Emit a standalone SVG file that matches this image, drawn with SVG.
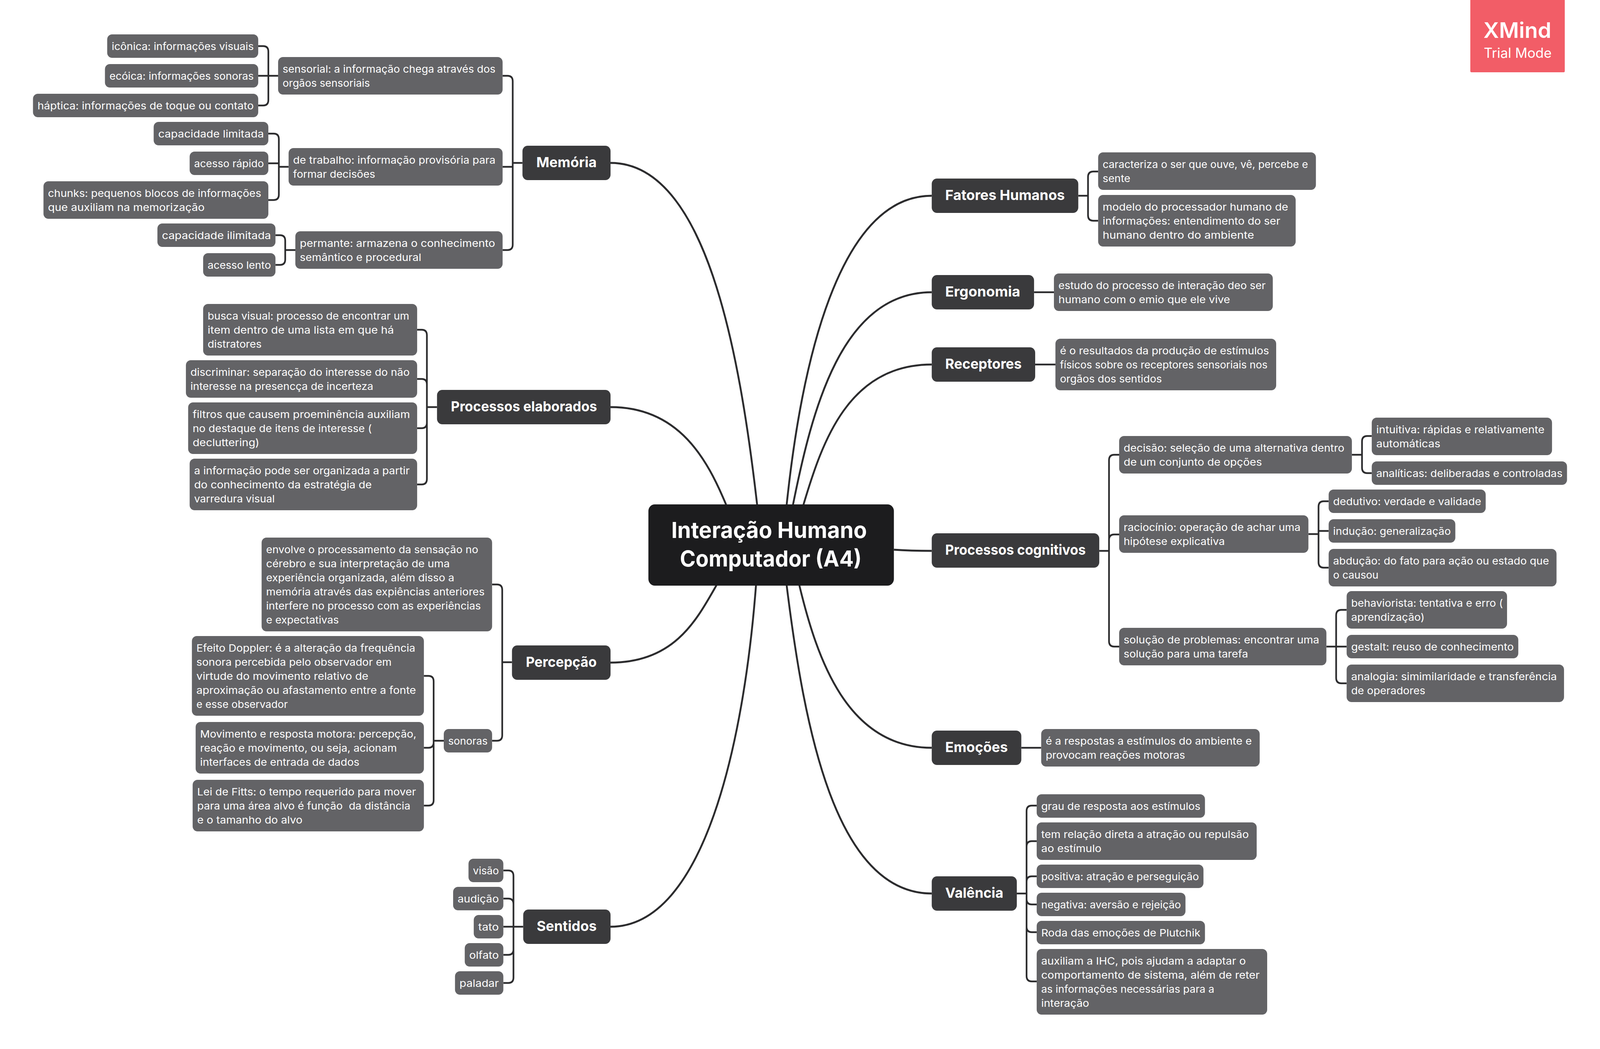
<svg xmlns="http://www.w3.org/2000/svg" width="4269" height="2685" viewBox="0 0 4269 2685" preserveAspectRatio="none">
<style>
svg{width:100vw;height:100vh}
text{font-family:Inter,"Open Sans","Liberation Sans",sans-serif;fill:#fff}
.l{fill:#636366}.b{fill:#3a3a3c}.r{fill:#1c1c1e}
.t{font-size:26px}
.bt{font-size:36px;font-weight:700}
.rt{font-size:57px;font-weight:700}
.c{fill:none;stroke:#2c2c2e;stroke-width:5}
.e{fill:none;stroke:#2c2c2e;stroke-width:4.5}
</style>
<rect width="4269" height="2685" fill="#fff"/>
<g id="connectors">
<path class="c" d="M1629 417C1883 417 1973 898 2020 1291L2030 1380"/>
<path class="c" d="M1629 1042C1814 1042 1888 1179 1937 1291L1960 1340"/>
<path class="c" d="M1629 1696C1799 1696 1858 1588 1911 1499L1940 1450"/>
<path class="c" d="M1629 2372C1879 2372 1985 1899 2017 1499L2021 1450"/>
<path class="c" d="M2486 501C2236 501 2138 936 2099 1291L2090 1370"/>
<path class="c" d="M2486 748C2246 748 2167 1047 2116 1291L2100 1370"/>
<path class="c" d="M2486 933C2264 933 2194 1130 2144 1291L2120 1370"/>
<path class="c" d="M2385 1407Q2430 1410 2486 1410"/>
<path class="c" d="M2486 1914C2260 1914 2180 1686 2133 1499L2120 1450"/>
<path class="c" d="M2486 2287C2226 2287 2145 1854 2099 1499L2093 1450"/>
<path class="e" d="M1394 417H1368V208Q1368 194 1354 194H1341M1368 417V427H1341M1368 417V626Q1368 640 1354 640H1341"/>
<path class="e" d="M742 194H716V132Q716 118 702 118H689M716 194H689M716 194V256Q716 270 702 270H689"/>
<path class="e" d="M770 427H744V356Q744 342 730 342H716M744 427V418H716M744 427V498Q744 512 730 512H716"/>
<path class="e" d="M788 640H761V616Q761 602 747 602H735M761 640V664Q761 678 747 678H735"/>
<path class="e" d="M1166 1042H1139V858Q1139 844 1125 844H1113M1139 1042V984Q1139 970 1125 970H1113M1139 1042V1082Q1139 1096 1125 1096H1113M1139 1042V1226Q1139 1240 1125 1240H1113"/>
<path class="e" d="M1366 1695H1340V1510Q1340 1496 1326 1496H1313M1340 1695V1882Q1340 1896 1326 1896H1313"/>
<path class="e" d="M1184 1896H1157V1744Q1157 1730 1143 1730H1131M1157 1896V1900Q1157 1914 1143 1914H1131M1157 1896V2048Q1157 2062 1143 2062H1131"/>
<path class="e" d="M1396 2372H1370V2242Q1370 2228 1356 2228H1343M1370 2372V2314Q1370 2300 1356 2300H1343M1370 2372H1343M1370 2372V2430Q1370 2444 1356 2444H1343M1370 2372V2502Q1370 2516 1356 2516H1343"/>
<path class="e" d="M2877 501H2903V453Q2903 439 2917 439H2930M2903 501V551Q2903 565 2917 565H2930"/>
<path class="e" d="M2759 748H2812M2762 933H2816M2725 1914H2778"/>
<path class="e" d="M2933 1410H2959V1178Q2959 1164 2973 1164H2986M2959 1410V1382Q2959 1368 2973 1368H2986M2959 1410V1641Q2959 1655 2973 1655H2986"/>
<path class="e" d="M3607 1164H3634V1130Q3634 1116 3648 1116H3660M3634 1164V1197Q3634 1211 3648 1211H3660"/>
<path class="e" d="M3491 1367H3518V1297Q3518 1283 3532 1283H3545M3518 1367V1359H3545M3518 1367V1439Q3518 1453 3532 1453H3545"/>
<path class="e" d="M3539 1655H3565V1575Q3565 1561 3579 1561H3593M3565 1655H3593M3565 1655V1735Q3565 1749 3579 1749H3593"/>
<path class="e" d="M2713 2287H2739V2076Q2739 2062 2753 2062H2766M2739 2287V2167Q2739 2153 2753 2153H2766M2739 2287V2257Q2739 2243 2753 2243H2766M2739 2287V2301Q2739 2315 2753 2315H2766M2739 2287V2372Q2739 2386 2753 2386H2766M2739 2287V2498Q2739 2512 2753 2512H2766"/>
</g>
<g id="root"><rect class="r" x="1730" y="1291" width="655" height="208" rx="17"/>
<text class="rt" x="1791" y="1377" textLength="522" lengthAdjust="spacingAndGlyphs">Interação Humano</text>
<text class="rt" x="1814" y="1450" textLength="485" lengthAdjust="spacingAndGlyphs">Computador (A4)</text></g>
<g id="memoria"><rect class="b" x="1394" y="373" width="235" height="88" rx="14"/><text class="bt" x="1431" y="428" textLength="161" lengthAdjust="spacingAndGlyphs">Memória</text></g>
<g id="sensorial"><rect class="l" x="742" y="146" width="599" height="96" rx="13"/><text class="t" x="754" y="186" textLength="568" lengthAdjust="spacingAndGlyphs">sensorial: a informação chega através dos</text><text class="t" x="754" y="222" textLength="233" lengthAdjust="spacingAndGlyphs">orgãos sensoriais</text></g>
<g id="iconica"><rect class="l" x="286" y="88" width="403" height="60" rx="13"/><text class="t" x="298" y="128" textLength="379" lengthAdjust="spacingAndGlyphs">icônica: informações visuais</text></g>
<g id="ecoica"><rect class="l" x="280" y="164" width="409" height="60" rx="13"/><text class="t" x="292" y="204" textLength="385" lengthAdjust="spacingAndGlyphs">ecóica: informações sonoras</text></g>
<g id="haptica"><rect class="l" x="88" y="240" width="601" height="60" rx="13"/><text class="t" x="100" y="280" textLength="577" lengthAdjust="spacingAndGlyphs">háptica: informações de toque ou contato</text></g>
<g id="trabalho"><rect class="l" x="770" y="379" width="571" height="96" rx="13"/><text class="t" x="782" y="419" textLength="540" lengthAdjust="spacingAndGlyphs">de trabalho: informação provisória para</text><text class="t" x="782" y="455" textLength="219" lengthAdjust="spacingAndGlyphs">formar decisões</text></g>
<g id="caplim"><rect class="l" x="410" y="312" width="306" height="60" rx="13"/><text class="t" x="422" y="352" textLength="282" lengthAdjust="spacingAndGlyphs">capacidade limitada</text></g>
<g id="rapido"><rect class="l" x="506" y="388" width="210" height="60" rx="13"/><text class="t" x="518" y="428" textLength="186" lengthAdjust="spacingAndGlyphs">acesso rápido</text></g>
<g id="chunks"><rect class="l" x="116" y="464" width="600" height="96" rx="13"/><text class="t" x="128" y="504" textLength="569" lengthAdjust="spacingAndGlyphs">chunks: pequenos blocos de informações</text><text class="t" x="128" y="540" textLength="418" lengthAdjust="spacingAndGlyphs">que auxiliam na memorização</text></g>
<g id="permante"><rect class="l" x="788" y="592" width="553" height="96" rx="13"/><text class="t" x="800" y="632" textLength="521" lengthAdjust="spacingAndGlyphs">permante: armazena o conhecimento</text><text class="t" x="800" y="668" textLength="324" lengthAdjust="spacingAndGlyphs">semântico e procedural</text></g>
<g id="capilim"><rect class="l" x="420" y="572" width="315" height="60" rx="13"/><text class="t" x="432" y="612" textLength="291" lengthAdjust="spacingAndGlyphs">capacidade ilimitada</text></g>
<g id="lento"><rect class="l" x="542" y="648" width="193" height="60" rx="13"/><text class="t" x="554" y="688" textLength="169" lengthAdjust="spacingAndGlyphs">acesso lento</text></g>
<g id="elaborados"><rect class="b" x="1166" y="998" width="463" height="88" rx="14"/><text class="bt" x="1203" y="1053" textLength="390" lengthAdjust="spacingAndGlyphs">Processos elaborados</text></g>
<g id="busca"><rect class="l" x="542" y="778" width="571" height="132" rx="13"/><text class="t" x="554" y="818" textLength="538" lengthAdjust="spacingAndGlyphs">busca visual: processo de encontrar um</text><text class="t" x="554" y="854" textLength="497" lengthAdjust="spacingAndGlyphs">item dentro de uma lista em que há</text><text class="t" x="554" y="890" textLength="144" lengthAdjust="spacingAndGlyphs">distratores</text></g>
<g id="discriminar"><rect class="l" x="496" y="922" width="617" height="96" rx="13"/><text class="t" x="508" y="962" textLength="585" lengthAdjust="spacingAndGlyphs">discriminar: separação do interesse do não</text><text class="t" x="508" y="998" textLength="488" lengthAdjust="spacingAndGlyphs">interesse na presencça de incerteza</text></g>
<g id="filtros"><rect class="l" x="502" y="1030" width="611" height="132" rx="13"/><text class="t" x="514" y="1070" textLength="580" lengthAdjust="spacingAndGlyphs">filtros que causem proeminência auxiliam</text><text class="t" x="514" y="1106" textLength="478" lengthAdjust="spacingAndGlyphs">no destaque de itens de interesse (</text><text class="t" x="514" y="1142" textLength="178" lengthAdjust="spacingAndGlyphs">decluttering)</text></g>
<g id="organizada"><rect class="l" x="506" y="1174" width="607" height="132" rx="13"/><text class="t" x="518" y="1214" textLength="575" lengthAdjust="spacingAndGlyphs">a informação pode ser organizada a partir</text><text class="t" x="518" y="1250" textLength="474" lengthAdjust="spacingAndGlyphs">do conhecimento da estratégia de</text><text class="t" x="518" y="1286" textLength="215" lengthAdjust="spacingAndGlyphs">varredura visual</text></g>
<g id="percepcao"><rect class="b" x="1366" y="1652" width="263" height="88" rx="14"/><text class="bt" x="1403" y="1707" textLength="189" lengthAdjust="spacingAndGlyphs">Percepção</text></g>
<g id="envolve"><rect class="l" x="698" y="1376" width="615" height="240" rx="13"/><text class="t" x="710" y="1416" textLength="566" lengthAdjust="spacingAndGlyphs">envolve o processamento da sensação no</text><text class="t" x="710" y="1452" textLength="490" lengthAdjust="spacingAndGlyphs">cérebro e sua interpretação de uma</text><text class="t" x="710" y="1488" textLength="502" lengthAdjust="spacingAndGlyphs">experiência organizada, além disso a</text><text class="t" x="710" y="1524" textLength="583" lengthAdjust="spacingAndGlyphs">memória através das expiências anteriores</text><text class="t" x="710" y="1560" textLength="573" lengthAdjust="spacingAndGlyphs">interfere no processo com as experiências</text><text class="t" x="710" y="1596" textLength="194" lengthAdjust="spacingAndGlyphs">e expectativas</text></g>
<g id="sonoras"><rect class="l" x="1184" y="1866" width="129" height="60" rx="13"/><text class="t" x="1196" y="1906" textLength="105" lengthAdjust="spacingAndGlyphs">sonoras</text></g>
<g id="doppler"><rect class="l" x="512" y="1628" width="619" height="204" rx="13"/><text class="t" x="524" y="1668" textLength="584" lengthAdjust="spacingAndGlyphs">Efeito Doppler: é a alteração da frequência</text><text class="t" x="524" y="1704" textLength="521" lengthAdjust="spacingAndGlyphs">sonora percebida pelo observador em</text><text class="t" x="524" y="1740" textLength="459" lengthAdjust="spacingAndGlyphs">virtude do movimento relativo de</text><text class="t" x="524" y="1776" textLength="586" lengthAdjust="spacingAndGlyphs">aproximação ou afastamento entre a fonte</text><text class="t" x="524" y="1812" textLength="244" lengthAdjust="spacingAndGlyphs">e esse observador</text></g>
<g id="movimento"><rect class="l" x="522" y="1848" width="609" height="132" rx="13"/><text class="t" x="534" y="1888" textLength="577" lengthAdjust="spacingAndGlyphs">Movimento e resposta motora: percepção,</text><text class="t" x="534" y="1924" textLength="525" lengthAdjust="spacingAndGlyphs">reação e movimento, ou seja, acionam</text><text class="t" x="534" y="1960" textLength="425" lengthAdjust="spacingAndGlyphs">interfaces de entrada de dados</text></g>
<g id="fitts"><rect class="l" x="514" y="1996" width="617" height="132" rx="13"/><text class="t" x="526" y="2036" textLength="584" lengthAdjust="spacingAndGlyphs">Lei de Fitts: o tempo requerido para mover</text><text class="t" x="526" y="2072" textLength="569" lengthAdjust="spacingAndGlyphs" xml:space="preserve">para uma área alvo é função  da distância</text><text class="t" x="526" y="2108" textLength="281" lengthAdjust="spacingAndGlyphs">e o tamanho do alvo</text></g>
<g id="sentidos"><rect class="b" x="1396" y="2328" width="233" height="88" rx="14"/><text class="bt" x="1432" y="2383" textLength="160" lengthAdjust="spacingAndGlyphs">Sentidos</text></g>
<g id="visao"><rect class="l" x="1250" y="2198" width="93" height="60" rx="13"/><text class="t" x="1262" y="2238" textLength="69" lengthAdjust="spacingAndGlyphs">visão</text></g>
<g id="audicao"><rect class="l" x="1209" y="2270" width="134" height="60" rx="13"/><text class="t" x="1221" y="2310" textLength="110" lengthAdjust="spacingAndGlyphs">audição</text></g>
<g id="tato"><rect class="l" x="1264" y="2342" width="79" height="60" rx="13"/><text class="t" x="1276" y="2382" textLength="55" lengthAdjust="spacingAndGlyphs">tato</text></g>
<g id="olfato"><rect class="l" x="1240" y="2414" width="103" height="60" rx="13"/><text class="t" x="1252" y="2454" textLength="79" lengthAdjust="spacingAndGlyphs">olfato</text></g>
<g id="paladar"><rect class="l" x="1214" y="2486" width="129" height="60" rx="13"/><text class="t" x="1226" y="2526" textLength="105" lengthAdjust="spacingAndGlyphs">paladar</text></g>
<g id="fatores"><rect class="b" x="2486" y="457" width="391" height="88" rx="14"/><text class="bt" x="2522" y="512" textLength="319" lengthAdjust="spacingAndGlyphs">Fatores Humanos</text></g>
<g id="caracteriza"><rect class="l" x="2930" y="390" width="581" height="96" rx="13"/><text class="t" x="2942" y="430" textLength="548" lengthAdjust="spacingAndGlyphs">caracteriza o ser que ouve, vê, percebe e</text><text class="t" x="2942" y="466" textLength="74" lengthAdjust="spacingAndGlyphs">sente</text></g>
<g id="modelo"><rect class="l" x="2930" y="499" width="527" height="132" rx="13"/><text class="t" x="2942" y="539" textLength="495" lengthAdjust="spacingAndGlyphs">modelo do processador humano de</text><text class="t" x="2942" y="575" textLength="474" lengthAdjust="spacingAndGlyphs">informações: entendimento do ser</text><text class="t" x="2942" y="611" textLength="404" lengthAdjust="spacingAndGlyphs">humano dentro do ambiente</text></g>
<g id="ergonomia"><rect class="b" x="2486" y="704" width="273" height="88" rx="14"/><text class="bt" x="2522" y="759" textLength="200" lengthAdjust="spacingAndGlyphs">Ergonomia</text></g>
<g id="estudo"><rect class="l" x="2812" y="700" width="584" height="96" rx="13"/><text class="t" x="2824" y="740" textLength="553" lengthAdjust="spacingAndGlyphs">estudo do processo de interação deo ser</text><text class="t" x="2824" y="776" textLength="458" lengthAdjust="spacingAndGlyphs">humano com o emio que ele vive</text></g>
<g id="receptores"><rect class="b" x="2486" y="889" width="276" height="88" rx="14"/><text class="bt" x="2522" y="944" textLength="204" lengthAdjust="spacingAndGlyphs">Receptores</text></g>
<g id="resultados"><rect class="l" x="2816" y="867" width="589" height="132" rx="13"/><text class="t" x="2828" y="907" textLength="558" lengthAdjust="spacingAndGlyphs">é o resultados da produção de estímulos</text><text class="t" x="2828" y="943" textLength="554" lengthAdjust="spacingAndGlyphs">físicos sobre os receptores sensoriais nos</text><text class="t" x="2828" y="979" textLength="272" lengthAdjust="spacingAndGlyphs">orgãos dos sentidos</text></g>
<g id="cognitivos"><rect class="b" x="2486" y="1365" width="447" height="88" rx="14"/><text class="bt" x="2522" y="1420" textLength="375" lengthAdjust="spacingAndGlyphs">Processos cognitivos</text></g>
<g id="decisao"><rect class="l" x="2986" y="1116" width="621" height="96" rx="13"/><text class="t" x="2998" y="1156" textLength="589" lengthAdjust="spacingAndGlyphs">decisão: seleção de uma alternativa dentro</text><text class="t" x="2998" y="1192" textLength="369" lengthAdjust="spacingAndGlyphs">de um conjunto de opções</text></g>
<g id="intuitiva"><rect class="l" x="3660" y="1069" width="481" height="96" rx="13"/><text class="t" x="3672" y="1109" textLength="449" lengthAdjust="spacingAndGlyphs">intuitiva: rápidas e relativamente</text><text class="t" x="3672" y="1145" textLength="171" lengthAdjust="spacingAndGlyphs">automáticas</text></g>
<g id="analiticas"><rect class="l" x="3660" y="1181" width="521" height="60" rx="13"/><text class="t" x="3672" y="1221" textLength="497" lengthAdjust="spacingAndGlyphs">analíticas: deliberadas e controladas</text></g>
<g id="raciocinio"><rect class="l" x="2986" y="1319" width="505" height="96" rx="13"/><text class="t" x="2998" y="1359" textLength="472" lengthAdjust="spacingAndGlyphs">raciocínio: operação de achar uma</text><text class="t" x="2998" y="1395" textLength="270" lengthAdjust="spacingAndGlyphs">hipótese explicativa</text></g>
<g id="dedutivo"><rect class="l" x="3545" y="1253" width="419" height="60" rx="13"/><text class="t" x="3557" y="1293" textLength="395" lengthAdjust="spacingAndGlyphs">dedutivo: verdade e validade</text></g>
<g id="inducao"><rect class="l" x="3545" y="1329" width="338" height="60" rx="13"/><text class="t" x="3557" y="1369" textLength="314" lengthAdjust="spacingAndGlyphs">indução: generalização</text></g>
<g id="abducao"><rect class="l" x="3545" y="1405" width="608" height="96" rx="13"/><text class="t" x="3557" y="1445" textLength="576" lengthAdjust="spacingAndGlyphs">abdução: do fato para ação ou estado que</text><text class="t" x="3557" y="1481" textLength="121" lengthAdjust="spacingAndGlyphs">o causou</text></g>
<g id="solucao"><rect class="l" x="2986" y="1607" width="553" height="96" rx="13"/><text class="t" x="2998" y="1647" textLength="522" lengthAdjust="spacingAndGlyphs">solução de problemas: encontrar uma</text><text class="t" x="2998" y="1683" textLength="332" lengthAdjust="spacingAndGlyphs">solução para uma tarefa</text></g>
<g id="behaviorista"><rect class="l" x="3593" y="1513" width="428" height="96" rx="13"/><text class="t" x="3605" y="1553" textLength="405" lengthAdjust="spacingAndGlyphs">behaviorista: tentativa e erro (</text><text class="t" x="3605" y="1589" textLength="196" lengthAdjust="spacingAndGlyphs">aprendização)</text></g>
<g id="gestalt"><rect class="l" x="3593" y="1625" width="458" height="60" rx="13"/><text class="t" x="3605" y="1665" textLength="434" lengthAdjust="spacingAndGlyphs">gestalt: reuso de conhecimento</text></g>
<g id="analogia"><rect class="l" x="3593" y="1701" width="580" height="96" rx="13"/><text class="t" x="3605" y="1741" textLength="549" lengthAdjust="spacingAndGlyphs">analogia: simimilaridade e transferência</text><text class="t" x="3605" y="1777" textLength="198" lengthAdjust="spacingAndGlyphs">de operadores</text></g>
<g id="emocoes"><rect class="b" x="2486" y="1870" width="239" height="88" rx="14"/><text class="bt" x="2522" y="1925" textLength="167" lengthAdjust="spacingAndGlyphs">Emoções</text></g>
<g id="respostas"><rect class="l" x="2778" y="1866" width="583" height="96" rx="13"/><text class="t" x="2790" y="1906" textLength="550" lengthAdjust="spacingAndGlyphs">é a respostas a estímulos do ambiente e</text><text class="t" x="2790" y="1942" textLength="372" lengthAdjust="spacingAndGlyphs">provocam reações motoras</text></g>
<g id="valencia"><rect class="b" x="2486" y="2243" width="227" height="88" rx="14"/><text class="bt" x="2522" y="2298" textLength="155" lengthAdjust="spacingAndGlyphs">Valência</text></g>
<g id="grau"><rect class="l" x="2766" y="2033" width="449" height="60" rx="13"/><text class="t" x="2778" y="2073" textLength="425" lengthAdjust="spacingAndGlyphs">grau de resposta aos estímulos</text></g>
<g id="relacao"><rect class="l" x="2766" y="2105" width="587" height="96" rx="13"/><text class="t" x="2778" y="2145" textLength="554" lengthAdjust="spacingAndGlyphs">tem relação direta a atração ou repulsão</text><text class="t" x="2778" y="2181" textLength="161" lengthAdjust="spacingAndGlyphs">ao estímulo</text></g>
<g id="positiva"><rect class="l" x="2766" y="2213" width="445" height="60" rx="13"/><text class="t" x="2778" y="2253" textLength="421" lengthAdjust="spacingAndGlyphs">positiva: atração e perseguição</text></g>
<g id="negativa"><rect class="l" x="2766" y="2285" width="397" height="60" rx="13"/><text class="t" x="2778" y="2325" textLength="373" lengthAdjust="spacingAndGlyphs">negativa: aversão e rejeição</text></g>
<g id="roda"><rect class="l" x="2766" y="2357" width="449" height="60" rx="13"/><text class="t" x="2778" y="2397" textLength="425" lengthAdjust="spacingAndGlyphs">Roda das emoções de Plutchik</text></g>
<g id="auxiliam"><rect class="l" x="2766" y="2429" width="615" height="168" rx="13"/><text class="t" x="2778" y="2469" textLength="546" lengthAdjust="spacingAndGlyphs">auxiliam a IHC, pois ajudam a adaptar o</text><text class="t" x="2778" y="2505" textLength="583" lengthAdjust="spacingAndGlyphs">comportamento de sistema, além de reter</text><text class="t" x="2778" y="2541" textLength="462" lengthAdjust="spacingAndGlyphs">as informações necessárias para a</text><text class="t" x="2778" y="2577" textLength="128" lengthAdjust="spacingAndGlyphs">interação</text></g>
<g id="xmind"><path d="M3923 0H4175V182Q4175 185 4172 185H3926Q3923 185 3923 182Z" fill="#f25d67"/><text x="3958" y="97" font-size="55" font-weight="600" textLength="181" lengthAdjust="spacingAndGlyphs">XMind</text><text x="3959" y="148" font-size="35" textLength="181" lengthAdjust="spacingAndGlyphs">Trial Mode</text></g>
</svg>
